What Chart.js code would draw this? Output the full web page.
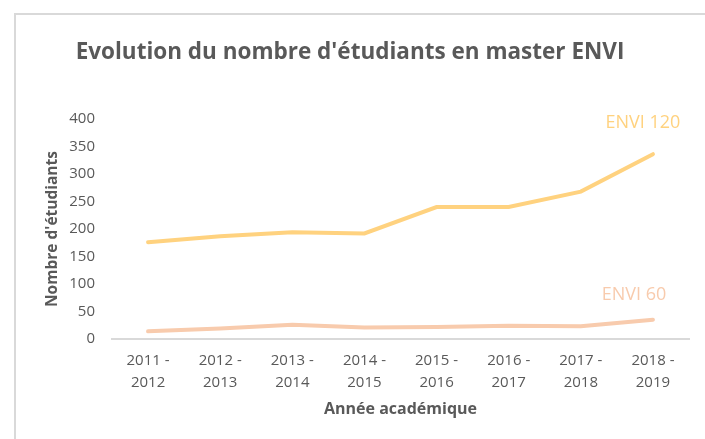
<!DOCTYPE html>
<html>
<head>
<meta charset="utf-8">
<script src="https://cdn.jsdelivr.net/npm/chart.js@4.4.1/dist/chart.umd.min.js"></script>
<style>
    html, body { margin: 0; padding: 0; background: #fff; overflow: hidden; }
    #wrap { position: relative; width: 705px; height: 439px; }
    #frame { position: absolute; left: 14px; top: 13px; width: 720px; height: 460px;
             border-top: 2px solid #d9d9d9; border-left: 2px solid #d9d9d9; }
    canvas { position: absolute; left: 0; top: 0; }
</style>
</head>
<body>
<div id="wrap">
    <div id="frame"></div>
    <canvas id="chart" width="705" height="439"></canvas>
</div>
<script>
// 데이터
const years = [
    ['2011 -', '2012'], ['2012 -', '2013'], ['2013 -', '2014'], ['2014 -', '2015'],
    ['2015 -', '2016'], ['2016 -', '2017'], ['2017 -', '2018'], ['2018 -', '2019']
];
const envi120 = [176, 187, 194, 192, 240, 240, 268, 336];
const envi60 = [14, 19, 26, 21, 22, 24, 23, 35];
const yTicks = [0, 50, 100, 150, 200, 250, 300, 350, 400];

const grey = '#595959';
const col120 = '#ffd27f';
const col60 = '#f8cbad';
const fontFamily = "'Open Sans', sans-serif";

// 선 끝에 시리즈 이름 표시
const endLabels = {
    id: 'endLabels',
    afterDatasetsDraw(chart) {
        const ctx = chart.ctx;
        const offsets = [[-10, -31], [-19, -25]];
        chart.data.datasets.forEach((ds, i) => {
            const pts = chart.getDatasetMeta(i).data;
            const last = pts[pts.length - 1];
            ctx.save();
            ctx.font = `18px ${fontFamily}`;
            ctx.fillStyle = ds.borderColor;
            ctx.textAlign = 'center';
            ctx.textBaseline = 'middle';
            ctx.fillText(ds.label, last.x + offsets[i][0], last.y + offsets[i][1]);
            ctx.restore();
        });
    }
};

new Chart(document.getElementById('chart'), {
    type: 'line',
    data: {
        labels: years,
        datasets: [
            {
                label: 'ENVI 120',
                data: envi120,
                borderColor: col120,
                borderWidth: 4,
                borderCapStyle: 'round',
                pointRadius: 0
            },
            {
                label: 'ENVI 60',
                data: envi60,
                borderColor: col60,
                borderWidth: 4,
                borderCapStyle: 'round',
                pointRadius: 0
            }
        ]
    },
    options: {
        responsive: false,
        animation: false,
        layout: { padding: { left: 11, right: 16, top: 0, bottom: 20 } },
        plugins: {
            legend: { display: false },
            tooltip: { enabled: false },
            title: {
                display: true,
                text: "Evolution du nombre d'étudiants en master ENVI",
                color: grey,
                font: { family: fontFamily, size: 22.5, weight: 'bold' },
                padding: { top: 39, bottom: 53 }
            }
        },
        scales: {
            x: {
                offset: true,
                grid: { display: false, drawTicks: false },
                border: { display: true, color: '#d9d9d9', width: 2 },
                ticks: {
                    color: grey,
                    font: { family: fontFamily, size: 15, lineHeight: 1.45 },
                    padding: 11,
                    maxRotation: 0
                },
                title: {
                    display: true,
                    text: 'Année académique',
                    color: grey,
                    font: { family: fontFamily, size: 16, weight: 'bold' },
                    padding: 0
                },
                afterFit(scale) { scale.height = 80; }
            },
            y: {
                min: 0,
                max: 400,
                afterBuildTicks(scale) { scale.ticks = yTicks.map(v => ({ value: v })); },
                grid: { display: false, drawTicks: false },
                border: { display: false },
                ticks: {
                    color: grey,
                    font: { family: fontFamily, size: 15 },
                    padding: 17
                },
                title: {
                    display: true,
                    text: "Nombre d'étudiants",
                    color: grey,
                    font: { family: fontFamily, size: 15.5, weight: 'bold' },
                    padding: { top: 32, bottom: 0 }
                },
                afterFit(scale) { scale.width = 101; }
            }
        }
    },
    plugins: [endLabels]
});
</script>
</body>
</html>
